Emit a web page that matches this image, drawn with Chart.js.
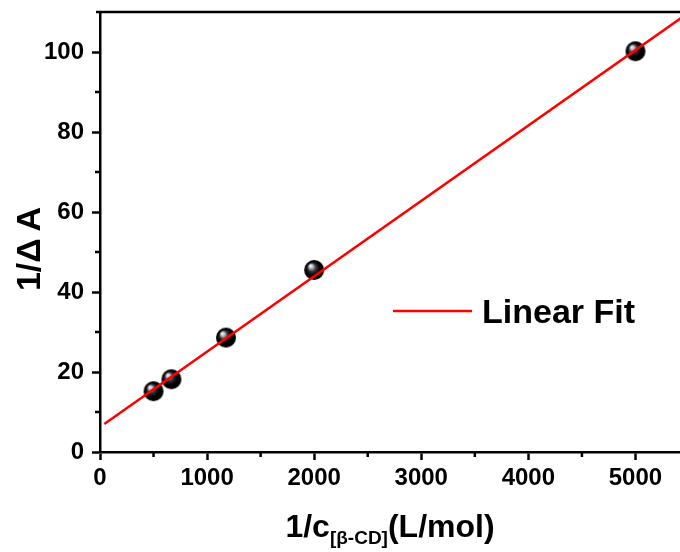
<!DOCTYPE html>
<html>
<head>
<meta charset="utf-8">
<script src="https://cdn.jsdelivr.net/npm/chart.js@4.4.1/dist/chart.umd.min.js"></script>
<style>
  html, body { margin: 0; padding: 0; background: #fff; overflow: hidden; }
  #wrap { position: relative; width: 700px; height: 552px; }
</style>
</head>
<body>
<div id="wrap"><canvas id="chart"></canvas></div>
<script>
// measured points
const xValues = [500, 667, 1176, 2000, 5000];
const yValues = [15.2, 18.2, 28.6, 45.5, 100.2];
// linear fit line ends
const fitX = [40, 5500];
const fitY = [7.0, 109.9];
const xTicks = [0, 1000, 2000, 3000, 4000, 5000];
const xMinor = [500, 1500, 2500, 3500, 4500];
const yTicks = [0, 20, 40, 60, 80, 100];
const yMinor = [10, 30, 50, 70, 90];
const legendLabel = "Linear Fit";

const FONT = '"Liberation Sans", Arial, sans-serif';

// shaded sphere marker
function makeSphere(r) {
  const c = document.createElement("canvas");
  c.width = c.height = r * 2 + 2;
  const g = c.getContext("2d");
  const cx = r + 1, cy = r + 1;
  const grad = g.createRadialGradient(cx - r * 0.4, cy - r * 0.45, 0, cx, cy, r);
  grad.addColorStop(0, "#ffffff");
  grad.addColorStop(0.18, "#c4c4d0");
  grad.addColorStop(0.42, "#34343a");
  grad.addColorStop(0.7, "#000000");
  grad.addColorStop(1, "#000000");
  g.fillStyle = grad;
  g.beginPath();
  g.arc(cx, cy, r, 0, Math.PI * 2);
  g.fill();
  return c;
}
const sphere = makeSphere(10);

const decorations = {
  id: "decorations",
  afterDraw(chart) {
    const ctx = chart.ctx;
    const area = chart.chartArea;
    const xs = chart.scales.x, ys = chart.scales.y;
    ctx.save();
    ctx.strokeStyle = "#000";
    ctx.lineWidth = 2.5;
    // top and right frame
    ctx.beginPath();
    ctx.moveTo(area.left - 4, area.top);
    ctx.lineTo(area.right, area.top);
    ctx.lineTo(area.right, area.bottom);
    ctx.stroke();
    // minor ticks
    ctx.beginPath();
    xMinor.forEach(v => {
      const px = xs.getPixelForValue(v);
      ctx.moveTo(px, area.bottom);
      ctx.lineTo(px, area.bottom + 5);
    });
    yMinor.forEach(v => {
      const py = ys.getPixelForValue(v);
      ctx.moveTo(area.left, py);
      ctx.lineTo(area.left - 5, py);
    });
    ctx.stroke();

    ctx.fillStyle = "#000";
    // x title with subscript
    const mainFont = "bold 32px " + FONT;
    const subFont = "bold 19px " + FONT;
    const parts = [["1/c", mainFont, 0], ["[β-CD]", subFont, 7], ["(L/mol)", mainFont, 0]];
    let total = 0;
    parts.forEach(p => { ctx.font = p[1]; total += ctx.measureText(p[0]).width; });
    let x = 390 - total / 2;
    ctx.textBaseline = "alphabetic";
    ctx.textAlign = "left";
    parts.forEach(p => {
      ctx.font = p[1];
      ctx.fillText(p[0], x, 537 + p[2]);
      x += ctx.measureText(p[0]).width;
    });

    // y title
    ctx.save();
    ctx.translate(40, 249);
    ctx.rotate(-Math.PI / 2);
    ctx.font = "bold 34px " + FONT;
    ctx.textAlign = "center";
    ctx.fillText("1/Δ\u2009A", 0, 0);
    ctx.restore();

    // legend
    ctx.strokeStyle = "#ff0000";
    ctx.lineWidth = 2.5;
    ctx.beginPath();
    ctx.moveTo(area.left + 293, 311);
    ctx.lineTo(area.left + 372, 311);
    ctx.stroke();
    ctx.font = "bold 34px " + FONT;
    ctx.textAlign = "left";
    ctx.fillText(legendLabel, area.left + 382, 323);
    ctx.restore();
  }
};

new Chart(document.getElementById("chart"), {
  type: "scatter",
  data: {
    datasets: [
      {
        label: legendLabel,
        type: "line",
        data: fitX.map((v, i) => ({ x: v, y: fitY[i] })),
        borderColor: "#ff0000",
        borderWidth: 2.5,
        pointRadius: 0,
        fill: false,
        order: 0
      },
      {
        label: "data",
        data: xValues.map((v, i) => ({ x: v, y: yValues[i] })),
        pointStyle: sphere,
        pointRadius: 10,
        order: 1
      }
    ]
  },
  plugins: [decorations],
  options: {
    responsive: true,
    maintainAspectRatio: false,
    animation: false,
    clip: true,
    layout: { padding: { top: 12, right: 11, left: 0, bottom: 0 } },
    plugins: { legend: { display: false }, tooltip: { enabled: false } },
    scales: {
      x: {
        type: "linear",
        min: 0,
        max: 5500,
        afterFit: s => { s.height = 100; s.paddingLeft = 0; s.paddingRight = 0; },
        afterBuildTicks: s => { s.ticks = xTicks.map(v => ({ value: v })); },
        ticks: {
          color: "#000",
          font: { family: FONT, size: 24, weight: "bold" },
          padding: 4,
          maxRotation: 0,
          callback: v => String(v)
        },
        grid: { drawOnChartArea: false, drawTicks: true, tickLength: 8, tickWidth: 2.5, tickColor: "#000" },
        border: { display: true, color: "#000", width: 2.5 }
      },
      y: {
        type: "linear",
        min: 0,
        max: 110,
        afterFit: s => { s.width = 100; s.paddingTop = 0; s.paddingBottom = 0; },
        afterBuildTicks: s => { s.ticks = yTicks.map(v => ({ value: v })); },
        ticks: {
          color: "#000",
          font: { family: FONT, size: 24, weight: "bold" },
          padding: 8,
          callback: v => String(v)
        },
        grid: { drawOnChartArea: false, drawTicks: true, tickLength: 8, tickWidth: 2.5, tickColor: "#000" },
        border: { display: true, color: "#000", width: 2.5 }
      }
    }
  }
});
</script>
</body>
</html>
